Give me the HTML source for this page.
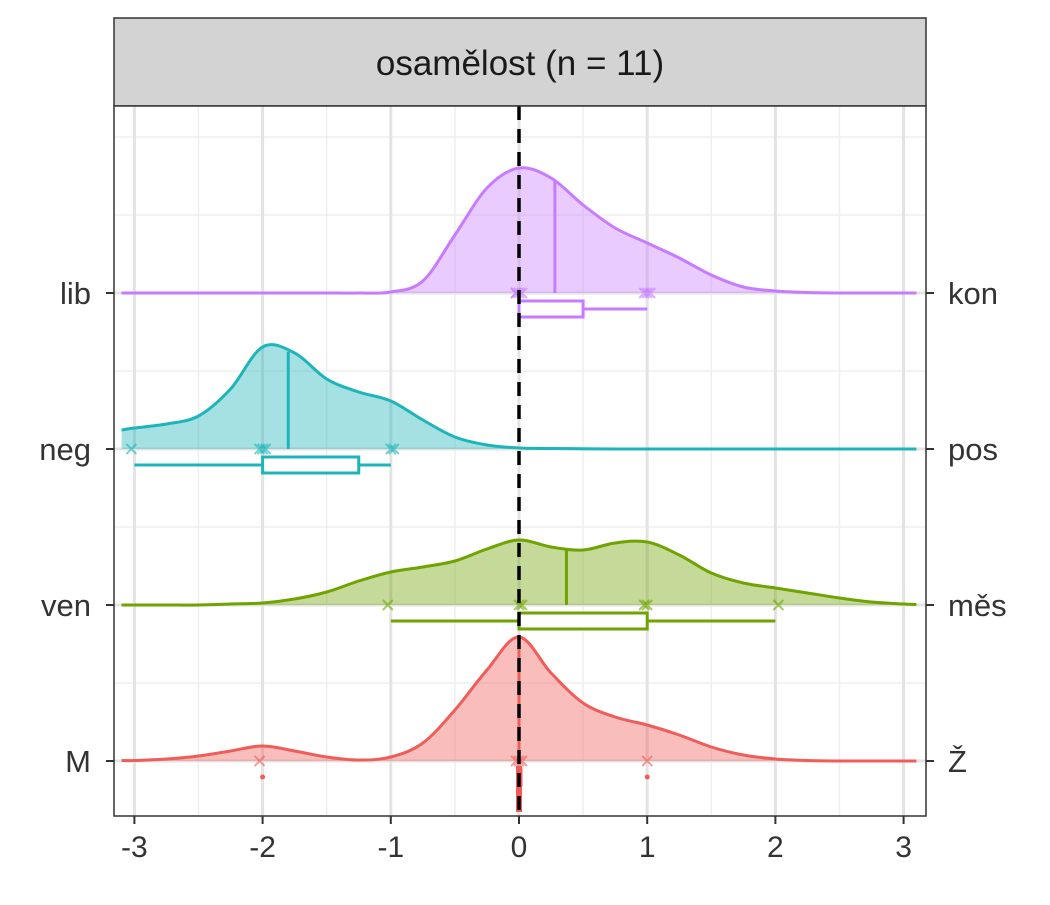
<!DOCTYPE html>
<html><head><meta charset="utf-8"><style>
body{margin:0;background:#fff}
svg text{font-family:"Liberation Sans",sans-serif;fill:#333}
</style></head><body>
<svg id="chart" width="1050" height="900">
<rect x="114" y="18" width="812" height="88" fill="#d3d3d3" stroke="#333" stroke-width="1.5"/>
<text x="520" y="75" text-anchor="middle" font-size="35" style="fill:#1a1a1a">osamělost (n = 11)</text>
<g id="grid"></g><g id="marks"></g><g id="axes"></g>
</svg>
<script>
const xGrid=[-3,-2,-1,0,1,2,3];
const xMinor=[-2.5,-1.5,-0.5,0.5,1.5,2.5];
const leftLabels=["lib","neg","ven","M"];
const rightLabels=["kon","pos","měs","Ž"];
const colors=["#C77CFF","#1DB5B9","#6FA300","#F05D58"];
const densX=[-3.1,-3,-2.75,-2.5,-2.25,-2,-1.75,-1.5,-1.25,-1,-0.75,-0.5,-0.25,0,0.25,0.5,0.75,1,1.25,1.5,1.75,2,2.25,2.5,2.75,3,3.1];
const densLib=[0,0,0,0,0,0,0,0,0,1,12,58,105,125,115,88,65,50,35,18,6,2,0.5,0,0,0,0];
const densNeg=[19,21,25,33,60,102,96,70,57,48,29,12,4,1,0.5,0.3,0,0,0,0,0,0,0,0,0,0,0];
const densVen=[0,0,0,0,1,2,6,13,24,33,38,44,56,65,58,55,62,63,50,32,22,17,12,7,3,1,0.5];
const densM=[0.5,0.5,2,5,10,15,10,4,1,4,18,51,91,124,88,58,44,36,26,14,6,2,0.5,0,0,0,0];
const densities=[densLib,densNeg,densVen,densM];
const medians=[0.28,-1.8,0.37,0];
const q1=[0,-2,0,0], q3=[0.5,-1.25,1,0], wLo=[0,-3,-1,0], wHi=[1,-1,2,0];
const pointsLib=[0,0,0,0,1,1,1], pointsNeg=[-3,-2,-2,-2,-1,-1], pointsVen=[-1,0,0,1,1,2], pointsM=[-2,0,0,0,1];
const pointSets=[pointsLib,pointsNeg,pointsVen,pointsM];
const outliersM=[-2,1];

const NS="http://www.w3.org/2000/svg";
const X=v=>519+v*128.2;
const rowBase=i=>293+i*156;
const Y=(i,d)=>rowBase(i)-d;
function el(tag,attrs,parent){const e=document.createElementNS(NS,tag);for(const k in attrs)e.setAttribute(k,attrs[k]);parent.appendChild(e);return e;}
const grid=document.getElementById('grid'),marks=document.getElementById('marks'),axes=document.getElementById('axes');
let g;
g=el('rect',{x:114,y:106,width:812,height:710,fill:'#fff'},grid);


xMinor.forEach(v=>{const l=el('line',{x1:X(v),x2:X(v),y1:106,y2:816,stroke:'#efefef','stroke-width':1.5},grid);

});
[137,215,371,527,683].forEach(y=>{const l=el('line',{x1:114,x2:926,y1:y,y2:y,stroke:'#efefef','stroke-width':1.5},grid);

});
xGrid.forEach(v=>{const l=el('line',{x1:X(v),x2:X(v),y1:106,y2:816,stroke:'#e3e3e3','stroke-width':3},grid);

});
[0,1,2,3].forEach(i=>{const l=el('line',{x1:114,x2:926,y1:rowBase(i),y2:rowBase(i),stroke:'#e3e3e3','stroke-width':3},grid);

});

function smooth(pts){let d=`M${pts[0][0]},${pts[0][1]}`;for(let i=0;i<pts.length-1;i++){const p0=pts[Math.max(0,i-1)],p1=pts[i],p2=pts[i+1],p3=pts[Math.min(pts.length-1,i+2)];
const c1=[p1[0]+(p2[0]-p0[0])/6,p1[1]+(p2[1]-p0[1])/6],c2=[p2[0]-(p3[0]-p1[0])/6,p2[1]-(p3[1]-p1[1])/6];d+=`C${c1[0]},${c1[1]} ${c2[0]},${c2[1]} ${p2[0]},${p2[1]}`;}return d;}
function densAt(i,v){const d=densities[i];for(let k=0;k<densX.length-1;k++){if(v>=densX[k]&&v<=densX[k+1]){const t=(v-densX[k])/(densX[k+1]-densX[k]);return d[k]+t*(d[k+1]-d[k]);}}return 0;}

[3,2,1,0].forEach(i=>{
 const c=colors[i];const pts=densX.map((v,k)=>[X(v),Y(i,densities[i][k])]);
 const line=smooth(pts);
 const a=el('path',{d:line+`L${X(3.1)},${rowBase(i)}L${X(-3.1)},${rowBase(i)}Z`,fill:c,'fill-opacity':0.4,stroke:'none'},marks);
 
 
 const l=el('path',{d:line,fill:'none',stroke:c,'stroke-width':3},marks);
 
 
 const m=el('line',{x1:X(medians[i]),x2:X(medians[i]),y1:rowBase(i),y2:Y(i,densAt(i,medians[i])),stroke:c,'stroke-width':3},marks);
 
 
 const by=rowBase(i)+16;
 const w=el('line',{x1:X(wLo[i]),x2:X(wHi[i]),y1:by,y2:by,stroke:c,'stroke-width':3},marks);
 
 
 const b=el('rect',{x:X(q1[i]),y:by-8,width:Math.max(2,X(q3[i])-X(q1[i])),height:16,fill:'#fff',stroke:c,'stroke-width':3},marks);
 
 
 pointSets[i].forEach((v,k)=>{const px=X(v)+((k%3)-1)*3,py=rowBase(i);
  const t=el('path',{d:`M${px-5},${py-5}L${px+5},${py+5}M${px-5},${py+5}L${px+5},${py-5}`,stroke:c,'stroke-opacity':0.6,'stroke-width':2,fill:'none'},marks);
  
  });
});
outliersM.forEach(v=>{const p=el('circle',{cx:X(v),cy:777,r:2.5,fill:colors[3]},marks);

});
const red=el('rect',{x:X(0)-3,y:766,width:6,height:46,fill:colors[3]},marks);


const z=el('line',{x1:X(0),x2:X(0),y1:106,y2:816,stroke:'#000','stroke-width':3.5,'stroke-dasharray':'14 9'},marks);


const fr=el('rect',{x:114,y:106,width:812,height:710,fill:'none',stroke:'#333','stroke-width':1.5},axes);


xGrid.forEach(v=>{const t=el('line',{x1:X(v),x2:X(v),y1:816,y2:824,stroke:'#333','stroke-width':2},axes);


const tx=el('text',{x:X(v),y:857,'text-anchor':'middle','font-size':30},axes);tx.textContent=v;

});
[0,1,2,3].forEach(i=>{const y=rowBase(i);
const t1=el('line',{x1:106,x2:114,y1:y,y2:y,stroke:'#333','stroke-width':2},axes);


const t2=el('line',{x1:926,x2:934,y1:y,y2:y,stroke:'#333','stroke-width':2},axes);


const l=el('text',{x:91,y:y+11,'text-anchor':'end','font-size':31},axes);l.textContent=leftLabels[i];


const r=el('text',{x:948,y:y+11,'font-size':31},axes);r.textContent=rightLabels[i];

});
</script>
</body></html>
